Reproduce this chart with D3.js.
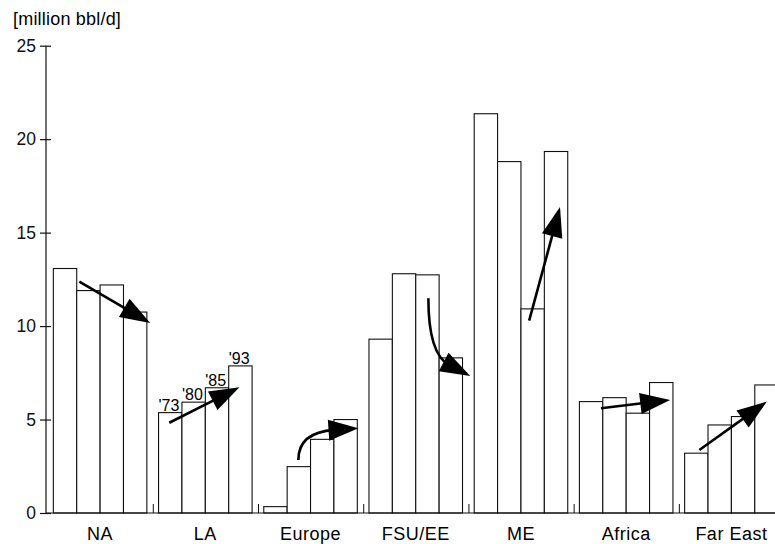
<!DOCTYPE html>
<html lang="en">
<head>
  <meta charset="utf-8">
  <title>Oil production by region</title>
  <script src="https://d3js.org/d3.v7.min.js"></script>
  <style>
    body { margin: 0; background: #fff; }
    svg { font-family: "Liberation Sans", Arial, Helvetica, sans-serif; }
    .bar { fill: #fff; stroke: #111; stroke-width: 1.1; }
    .axis path, .axis line { stroke: #111; stroke-width: 1.2; }
    .axis text { font-size: 17.5px; fill: #111; }
    .arrow { fill: none; stroke: #000; stroke-width: 2.6; }
    .head { fill: #000; }
  </style>
</head>
<body>
<script>
  // regions and years
  const regions = ["NA", "LA", "Europe", "FSU/EE", "ME", "Africa", "Far East"];
  const years = ["'73", "'80", "'85", "'93"];

  // production per region, one value per year [million bbl/d]
  const valNA = [13.08, 11.9, 12.2, 10.75];
  const valLA = [5.37, 5.93, 6.7, 7.87];
  const valEurope = [0.34, 2.48, 3.94, 5.0];
  const valFSU = [9.3, 12.8, 12.74, 8.3];
  const valME = [21.36, 18.8, 10.92, 19.34];
  const valAfrica = [5.96, 6.17, 5.34, 6.98];
  const valFarEast = [3.2, 4.71, 5.16, 6.85];
  const allValues = [valNA, valLA, valEurope, valFSU, valME, valAfrica, valFarEast];

  const yTicks = [0, 5, 10, 15, 20, 25];

  // trend arrows: position inside group in bar units (0..4) and value
  const arrows = [
    { region: "NA", x0: 1.11, y0: 12.38, x1: 4.14, y1: 10.16 },
    { region: "LA", x0: 0.46, y0: 4.83, x1: 3.46, y1: 6.73 },
    { region: "Europe", x0: 1.48, y0: 2.84, x1: 4.05, y1: 4.53, bend: "up" },
    { region: "FSU/EE", x0: 2.54, y0: 11.49, x1: 4.33, y1: 7.33, bend: "down" },
    { region: "ME", x0: 2.35, y0: 10.29, x1: 3.67, y1: 16.37 },
    { region: "Africa", x0: 0.92, y0: 5.6, x1: 3.88, y1: 6.05 },
    { region: "Far East", x0: 0.63, y0: 3.37, x1: 3.52, y1: 5.96 }
  ];

  const width = 775, height = 544;
  const svg = d3.select("body").append("svg")
    .attr("width", width)
    .attr("height", height);

  const x = d3.scaleBand()
    .domain(regions)
    .range([47.5, 784])
    .paddingInner(0.111)
    .paddingOuter(0.0555);

  const xYear = d3.scaleBand()
    .domain(years)
    .range([0, x.bandwidth()]);

  const y = d3.scaleLinear()
    .domain([0, 25])
    .range([513, 45.7]);

  const bw = xYear.bandwidth();

  // bars
  regions.forEach((r, i) => {
    svg.selectAll(null)
      .data(allValues[i])
      .enter().append("rect")
      .attr("class", "bar")
      .attr("x", (d, j) => x(r) + xYear(years[j]))
      .attr("y", d => y(d))
      .attr("width", bw)
      .attr("height", d => y(0) - y(d));
  });

  // year labels above LA bars
  svg.selectAll(".yr")
    .data(valLA)
    .enter().append("text")
    .attr("class", "yr")
    .attr("x", (d, j) => x("LA") + xYear(years[j]))
    .attr("y", d => y(d) - 2)
    .style("font-size", "16px")
    .text((d, j) => years[j]);

  // baseline
  svg.append("line")
    .attr("x1", 46).attr("x2", width)
    .attr("y1", y(0)).attr("y2", y(0))
    .attr("stroke", "#111").attr("stroke-width", 1.2);

  // small marks between groups
  svg.selectAll(".sep")
    .data(regions.slice(1))
    .enter().append("line")
    .attr("x1", d => x(d) - x.step() * 0.05)
    .attr("x2", d => x(d) - x.step() * 0.05)
    .attr("y1", y(0))
    .attr("y2", y(0) - 9)
    .attr("stroke", "#111").attr("stroke-width", 1);

  // y axis
  const yAxis = svg.append("g")
    .attr("class", "axis")
    .attr("transform", "translate(46,0)")
    .call(d3.axisLeft(y).tickValues(yTicks).tickSize(6).tickPadding(4));
  yAxis.select(".domain").attr("d", "M0," + y(0) + "V" + y(25));
  yAxis.selectAll(".tick line").attr("x1", 5);

  // region labels
  svg.selectAll(".rl")
    .data(regions)
    .enter().append("text")
    .attr("class", "rl")
    .attr("x", d => x(d) + x.bandwidth() / 2)
    .attr("y", 540)
    .attr("text-anchor", "middle")
    .style("font-size", "18px")
    .style("letter-spacing", "0.5px")
    .text(d => d);

  // unit label
  svg.append("text")
    .attr("x", 13)
    .attr("y", 25)
    .style("font-size", "18px")
    .style("letter-spacing", "0.2px")
    .text("[million bbl/d]");

  // arrows
  const headLen = 30, headHalf = 10.5;
  arrows.forEach(a => {
    const px0 = x(a.region) + a.x0 * bw, py0 = y(a.y0);
    const px1 = x(a.region) + a.x1 * bw, py1 = y(a.y1);
    let dx, dy, path;
    if (a.bend) {
      // curve leaving vertically, arriving along a sloped tangent
      const cx = px0, cy = a.bend === "up" ? py1 + 4 : py1 - 22;
      dx = px1 - cx; dy = py1 - cy;
      const len = Math.hypot(dx, dy);
      const bx = px1 - dx / len * headLen * 0.8, by = py1 - dy / len * headLen * 0.8;
      path = "M" + px0 + "," + py0 + "Q" + cx + "," + cy + " " + bx + "," + by;
    } else {
      dx = px1 - px0; dy = py1 - py0;
      const len = Math.hypot(dx, dy);
      const bx = px1 - dx / len * headLen * 0.8, by = py1 - dy / len * headLen * 0.8;
      path = "M" + px0 + "," + py0 + "L" + bx + "," + by;
    }
    svg.append("path").attr("class", "arrow").attr("d", path);
    const len = Math.hypot(dx, dy);
    const ux = dx / len, uy = dy / len;
    const bx = px1 - ux * headLen, by = py1 - uy * headLen;
    const pts = [
      [px1, py1],
      [bx - uy * headHalf, by + ux * headHalf],
      [bx + uy * headHalf, by - ux * headHalf]
    ];
    svg.append("path").attr("class", "head")
      .attr("d", "M" + pts.map(p => p.join(",")).join("L") + "Z");
  });
</script>
</body>
</html>
